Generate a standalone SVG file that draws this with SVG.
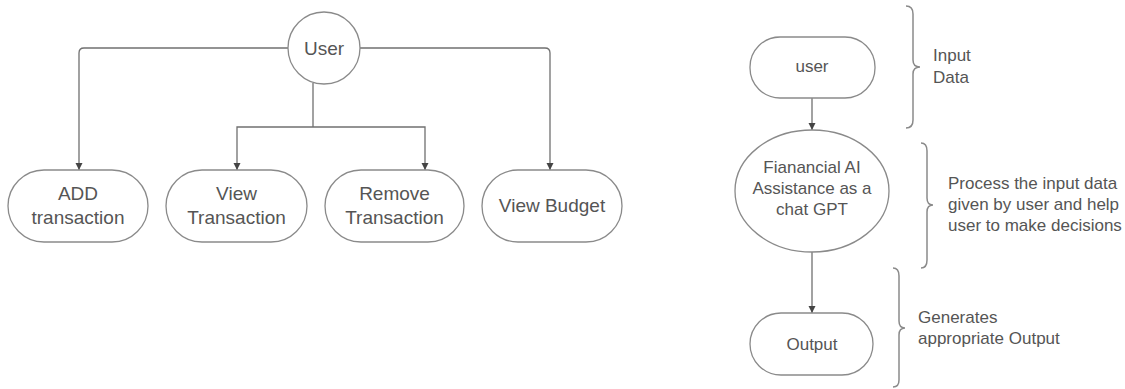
<svg xmlns="http://www.w3.org/2000/svg" width="1125" height="389" viewBox="0 0 1125 389">
<defs>
<marker id="arr" viewBox="0 0 10 10" refX="10" refY="5" markerWidth="7" markerHeight="8" orient="auto" markerUnits="userSpaceOnUse">
<path d="M0,0 L10,5 L0,10 z" fill="#444"/>
</marker>
<style>
.node{fill:#fff;stroke:#8a8a8a;stroke-width:1.3}
.edge{fill:none;stroke:#707070;stroke-width:1.3;marker-end:url(#arr)}
.line{fill:none;stroke:#707070;stroke-width:1.3}
.brace{fill:none;stroke:#8a8a8a;stroke-width:1.5}
.tl{font-family:"Liberation Sans",Arial,sans-serif;font-size:19px;fill:#555;text-anchor:middle}
.tr{font-family:"Liberation Sans",Arial,sans-serif;font-size:17px;fill:#555;text-anchor:middle}
.note{font-family:"Liberation Sans",Arial,sans-serif;font-size:17px;fill:#555}
</style>
</defs>
<rect width="1125" height="389" fill="#fff"/>
<g id="connectors">
<path class="edge" d="M288,48 H84 Q79,48 79,53 V170"/>
<path class="edge" d="M360,48 H545 Q550,48 550,53 V170"/>
<path class="line" d="M313,83 V127"/>
<path class="edge" d="M313,127 H237 V170"/>
<path class="edge" d="M313,127 H425 V170"/>
<path class="edge" d="M812,98 V130"/>
<path class="edge" d="M812,252 V313"/>
</g>
<g id="user-main"><circle class="node" cx="324" cy="48" r="36"/><text class="tl" x="324" y="55">User</text></g>
<g id="add-transaction"><rect class="node" x="8" y="170" width="140" height="72" rx="36"/><text class="tl" x="78" y="200">ADD</text><text class="tl" x="78" y="224">transaction</text></g>
<g id="view-transaction"><rect class="node" x="166" y="170" width="141" height="72" rx="36"/><text class="tl" x="236.5" y="200">View</text><text class="tl" x="236.5" y="224">Transaction</text></g>
<g id="remove-transaction"><rect class="node" x="325" y="170" width="139" height="72" rx="36"/><text class="tl" x="394.5" y="200">Remove</text><text class="tl" x="394.5" y="224">Transaction</text></g>
<g id="view-budget"><rect class="node" x="482" y="170" width="140" height="72" rx="36"/><text class="tl" x="552" y="212">View Budget</text></g>
<g id="user-input"><rect class="node" x="750" y="37" width="125" height="61" rx="30"/><text class="tr" x="812" y="72">user</text></g>
<g id="assistant"><ellipse class="node" cx="812" cy="191" rx="77" ry="61"/><text class="tr" x="812" y="173">Fianancial AI</text><text class="tr" x="812" y="194">Assistance as a</text><text class="tr" x="812" y="215">chat GPT</text></g>
<g id="output"><rect class="node" x="750" y="313" width="123" height="62" rx="31"/><text class="tr" x="812" y="350">Output</text></g>
<g id="brace-input"><path class="brace" d="M906,6 Q913,6 913,14 V60 Q913,67 920,67 Q913,67 913,74 V120 Q913,128 906,128"/><text class="note" x="933" y="61">Input</text><text class="note" x="933" y="83">Data</text></g>
<g id="brace-process"><path class="brace" d="M921,143 Q927,143 927,151 V198 Q927,205 933,205 Q927,205 927,212 V260 Q927,268 921,268"/><text class="note" x="948" y="189">Process the input data</text><text class="note" x="948" y="210">given by user and help</text><text class="note" x="948" y="231">user to make decisions</text></g>
<g id="brace-output"><path class="brace" d="M893,268 Q899,268 899,276 V321 Q899,328 905,328 Q899,328 899,335 V380 Q899,387 893,387"/><text class="note" x="918" y="323">Generates</text><text class="note" x="918" y="344">appropriate Output</text></g>
</svg>
